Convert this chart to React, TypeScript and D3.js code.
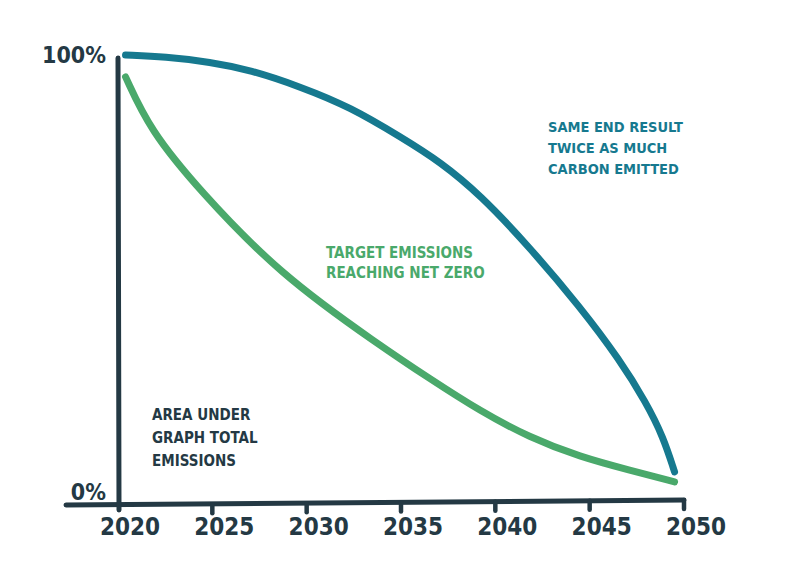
import React, { useEffect, useRef } from "react";
import * as d3 from "d3";

// hand-drawn style emissions chart
const years = [2020, 2025, 2030, 2035, 2040, 2045, 2050];
const yTicks = [
  { value: 0, label: "0%" },
  { value: 100, label: "100%" },
];

const delayedYears = [2020.4, 2022.5, 2024.9, 2027, 2029.7, 2032.3, 2035, 2037.1, 2039.2, 2041.8, 2044.5, 2046.6, 2048, 2048.9, 2049.5];
const delayedValues = [100, 99.6, 98.4, 96.6, 92.7, 88.1, 81.2, 75.5, 68, 56.1, 42.3, 30.2, 20.4, 12.6, 4.6];

const targetYears = [2020.4, 2021.7, 2024.3, 2028.6, 2033.9, 2036.5, 2039.2, 2041.8, 2044.5, 2047.1, 2049.5];
const targetValues = [95, 82.8, 69.1, 49.7, 33.5, 26, 18.5, 12.5, 8, 5, 2.3];

const notes = [
  { lines: ["SAME END RESULT", "TWICE AS MUCH", "CARBON EMITTED"], color: "#16798f", x: 548, y: 132, size: 14.5, gap: 21 },
  { lines: ["TARGET EMISSIONS", "REACHING NET ZERO"], color: "#4aa96b", x: 326, y: 258, size: 15, gap: 20 },
  { lines: ["AREA UNDER", "GRAPH TOTAL", "EMISSIONS"], color: "#243944", x: 152, y: 420, size: 15, gap: 23 },
];

export default function App() {
  const ref = useRef<SVGSVGElement>(null);

  useEffect(() => {
    if (!ref.current) return;
    const svg = d3.select(ref.current);
    svg.selectAll("*").remove();

    const ink = "#243944";
    const font = "'DejaVu Sans Condensed', 'DejaVu Sans', sans-serif";

    const x = d3.scaleLinear().domain([2020, 2050]).range([118, 684]);
    const y = d3.scaleLinear().domain([0, 100]).range([492, 55]);

    // axes
    svg
      .append("line")
      .attr("x1", 66)
      .attr("x2", 684)
      .attr("y1", 505)
      .attr("y2", 500)
      .attr("stroke", ink)
      .attr("stroke-width", 5)
      .attr("stroke-linecap", "round");

    svg
      .append("line")
      .attr("x1", 118)
      .attr("x2", 119)
      .attr("y1", 58)
      .attr("y2", 510)
      .attr("stroke", ink)
      .attr("stroke-width", 5)
      .attr("stroke-linecap", "round");

    const axisY = (yr: number) => 505 - ((yr - 2020) / 30) * 5;

    svg
      .append("g")
      .selectAll("line")
      .data(years.slice(1))
      .join("line")
      .attr("x1", (d) => x(d))
      .attr("x2", (d) => x(d))
      .attr("y1", (d) => axisY(d))
      .attr("y2", (d) => axisY(d) + 9)
      .attr("stroke", ink)
      .attr("stroke-width", 4.5)
      .attr("stroke-linecap", "round");

    svg
      .append("g")
      .selectAll("text")
      .data(years)
      .join("text")
      .attr("x", (d) => x(d) + 12)
      .attr("y", 535)
      .attr("text-anchor", "middle")
      .attr("font-family", font)
      .attr("font-weight", "bold")
      .attr("font-size", 24)
      .attr("fill", ink)
      .text((d) => d);

    svg
      .append("g")
      .selectAll("text")
      .data(yTicks)
      .join("text")
      .attr("x", 106)
      .attr("y", (d) => y(d.value) + 8)
      .attr("text-anchor", "end")
      .attr("font-family", font)
      .attr("font-weight", "bold")
      .attr("font-size", 23)
      .attr("fill", ink)
      .text((d) => d.label);

    const line = d3
      .line<[number, number]>()
      .x((d) => x(d[0]))
      .y((d) => y(d[1]))
      .curve(d3.curveBasis);

    const series = [
      { xs: targetYears, vs: targetValues, color: "#4aa96b" },
      { xs: delayedYears, vs: delayedValues, color: "#16798f" },
    ];

    svg
      .append("g")
      .selectAll("path")
      .data(series)
      .join("path")
      .attr("d", (s) => line(s.xs.map((yr, i) => [yr, s.vs[i]] as [number, number])))
      .attr("fill", "none")
      .attr("stroke", (s) => s.color)
      .attr("stroke-width", 7)
      .attr("stroke-linecap", "round")
      .attr("stroke-linejoin", "round");

    const noteG = svg.append("g");
    notes.forEach((n) => {
      noteG
        .append("text")
        .attr("font-family", font)
        .attr("font-weight", "bold")
        .attr("font-size", n.size)
        .attr("fill", n.color)
        .selectAll("tspan")
        .data(n.lines)
        .join("tspan")
        .attr("x", n.x)
        .attr("y", (_, i) => n.y + i * n.gap)
        .text((d) => d);
    });
  }, []);

  return (
    <svg
      ref={ref}
      width={800}
      height={565}
      style={{ position: "absolute", left: 0, top: 0, background: "#fff" }}
    />
  );
}
